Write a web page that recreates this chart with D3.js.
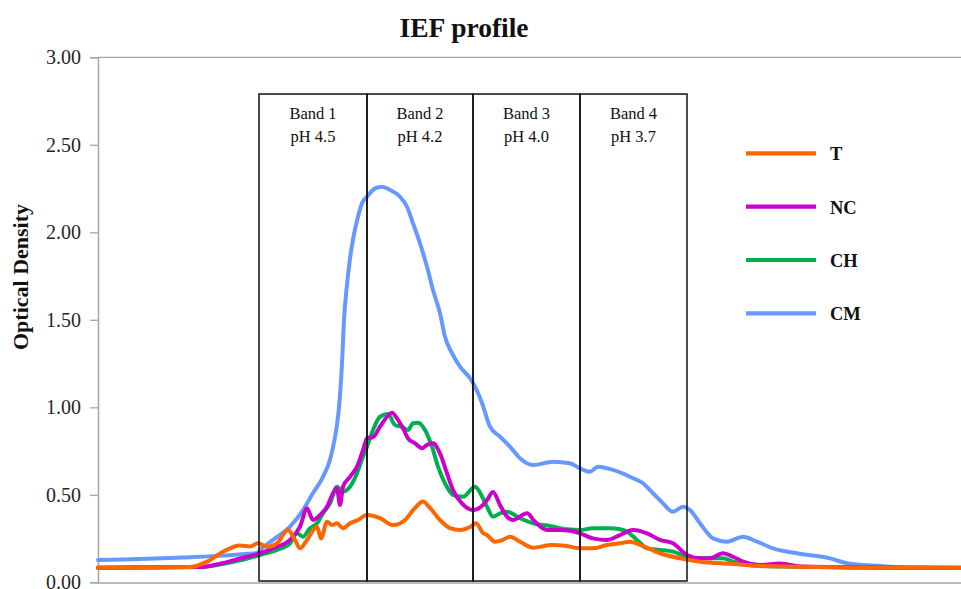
<!DOCTYPE html>
<html>
<head>
<meta charset="utf-8">
<script src="https://cdn.jsdelivr.net/npm/d3@7"></script>
<style>
  html, body { margin: 0; padding: 0; background: #fff; }
  svg { display: block; }
</style>
</head>
<body>
<svg id="chart" width="961" height="589"></svg>
<script>
// ---- data (position along the gel, optical density) ----
const seriesNames = ["T", "NC", "CH", "CM"];
const seriesColors = ["#FF6600", "#CC00CC", "#00B050", "#6699FF"];

const posT  = [0,92,109,125,142,152,160,169,179,190,197,202,209,219,223,229,234,239,245,252,260,269,282,295,307,317,325,332,342,352,362,372,378,385,389,397,405,412,422,435,454,469,482,495,509,522,532,545,562,582,602,635,662,752,863];
const odT   = [0.083,0.087,0.118,0.175,0.21,0.205,0.223,0.203,0.223,0.299,0.242,0.194,0.242,0.318,0.251,0.346,0.327,0.337,0.309,0.337,0.356,0.385,0.367,0.327,0.356,0.425,0.461,0.425,0.356,0.31,0.299,0.316,0.337,0.282,0.27,0.232,0.242,0.261,0.232,0.198,0.213,0.207,0.194,0.194,0.213,0.223,0.232,0.207,0.166,0.137,0.118,0.105,0.093,0.085,0.082];

const posNC = [0,102,125,142,162,175,192,202,209,215,222,229,235,239,242,245,252,259,265,269,275,282,289,294,299,305,310,317,324,329,335,342,349,355,364,375,385,389,395,402,409,415,429,437,449,462,472,482,495,509,522,535,549,562,575,589,602,612,625,635,645,662,682,702,782,863];
const odNC  = [0.083,0.087,0.11,0.136,0.166,0.194,0.242,0.318,0.423,0.356,0.385,0.432,0.509,0.537,0.442,0.546,0.603,0.661,0.756,0.823,0.829,0.889,0.946,0.969,0.937,0.88,0.823,0.794,0.766,0.785,0.794,0.737,0.623,0.527,0.451,0.413,0.442,0.47,0.516,0.442,0.375,0.356,0.394,0.346,0.299,0.299,0.295,0.28,0.251,0.242,0.27,0.299,0.28,0.242,0.223,0.156,0.137,0.137,0.166,0.146,0.118,0.099,0.107,0.09,0.085,0.083];

const posCH = [0,102,142,162,179,192,199,205,212,219,225,232,239,245,252,259,265,269,275,282,290,297,304,310,315,320,327,334,340,347,355,365,377,385,389,395,402,409,422,435,452,469,482,495,512,522,529,539,549,562,575,589,602,625,635,662,752,863];
const odCH  = [0.083,0.087,0.125,0.156,0.185,0.223,0.28,0.261,0.309,0.337,0.394,0.451,0.546,0.518,0.546,0.623,0.718,0.775,0.87,0.946,0.962,0.899,0.889,0.87,0.909,0.912,0.87,0.775,0.661,0.566,0.499,0.489,0.546,0.48,0.432,0.375,0.394,0.403,0.366,0.337,0.322,0.303,0.299,0.309,0.309,0.303,0.289,0.242,0.194,0.185,0.175,0.146,0.137,0.137,0.118,0.093,0.085,0.082];

const posCM = [0,159,162,175,192,205,215,225,232,236,239,241,244,246,249,252,255,260,264,269,277,284,292,302,309,315,322,329,335,342,347,354,362,372,377,384,392,402,412,422,435,455,472,482,492,500,515,532,545,555,565,575,585,592,602,615,629,645,659,675,699,732,749,782,815,863];
const odCM  = [0.127,0.167,0.185,0.242,0.318,0.413,0.51,0.603,0.70,0.80,0.90,1.00,1.25,1.50,1.70,1.85,1.96,2.089,2.166,2.203,2.251,2.261,2.242,2.203,2.146,2.051,1.937,1.803,1.67,1.537,1.403,1.309,1.232,1.166,1.118,1.025,0.889,0.832,0.775,0.709,0.67,0.689,0.68,0.651,0.632,0.661,0.642,0.603,0.566,0.509,0.451,0.403,0.432,0.413,0.337,0.251,0.232,0.261,0.232,0.194,0.166,0.137,0.109,0.093,0.083,0.083];

// bands (boundaries along the same position axis)
const bandEdges = [161, 269, 375, 482, 589];
const bandNames = ["Band 1", "Band 2", "Band 3", "Band 4"];
const bandPH    = ["pH 4.5", "pH 4.2", "pH 4.0", "pH 3.7"];
const bandTop   = 2.79;

const yTicks = [0, 0.5, 1, 1.5, 2, 2.5, 3];
const titleText = "IEF profile";
const yLabel = "Optical Density";

// ---- layout ----
const svg = d3.select("#chart");
const plotLeft = 98, plotRight = 962, plotTop = 57.3, plotBottom = 582.3;

const x = d3.scaleLinear().domain([0, 864]).range([plotLeft, plotRight]);
const y = d3.scaleLinear().domain([0, 3]).range([plotBottom, plotTop]);

const serif = "'Liberation Serif', 'Times New Roman', Times, serif";
const axisGrey = "#a6a6a6";

// top border line
svg.append("line")
  .attr("x1", plotLeft).attr("x2", 961)
  .attr("y1", y(3)).attr("y2", y(3))
  .attr("stroke", axisGrey).attr("stroke-width", 1.3);

// x axis line (no ticks)
svg.append("line")
  .attr("x1", plotLeft).attr("x2", 961)
  .attr("y1", y(0) + 0.8).attr("y2", y(0) + 0.8)
  .attr("stroke", axisGrey).attr("stroke-width", 1.5);

// y axis
const yAxis = d3.axisLeft(y).tickValues(yTicks).tickFormat(d3.format(".2f")).tickSize(8).tickPadding(9);
const gy = svg.append("g").attr("transform", `translate(${plotLeft},0)`).call(yAxis);
gy.select(".domain").attr("stroke", axisGrey).attr("stroke-width", 1.5);
gy.selectAll(".tick line").attr("stroke", axisGrey).attr("stroke-width", 1.3);
gy.selectAll(".tick text")
  .attr("font-family", serif).attr("font-size", 20).attr("fill", "#262626");

// series lines
const line = d3.line()
  .x(d => x(d[0])).y(d => y(d[1]))
  .curve(d3.curveMonotoneX);

const seriesData = [
  d3.zip(posT, odT),
  d3.zip(posNC, odNC),
  d3.zip(posCH, odCH),
  d3.zip(posCM, odCM)
];
// draw CM first, T last (T on top)
[3, 2, 1, 0].forEach(i => {
  svg.append("path")
    .datum(seriesData[i])
    .attr("fill", "none")
    .attr("stroke", seriesColors[i])
    .attr("stroke-width", 4)
    .attr("stroke-linejoin", "round")
    .attr("stroke-linecap", "round")
    .attr("d", line);
});

// band boxes
const bands = d3.range(bandNames.length).map(i => ({
  x0: bandEdges[i], x1: bandEdges[i + 1], name: bandNames[i], ph: bandPH[i]
}));
const gb = svg.append("g");
gb.selectAll("rect").data(bands).join("rect")
  .attr("x", d => x(d.x0)).attr("width", d => x(d.x1) - x(d.x0))
  .attr("y", y(bandTop)).attr("height", y(0) - 1.3 - y(bandTop))
  .attr("fill", "none").attr("stroke", "#111").attr("stroke-width", 1.5);
gb.selectAll("text.bn").data(bands).join("text").attr("class", "bn")
  .attr("x", d => (x(d.x0) + x(d.x1)) / 2).attr("y", 118.5)
  .attr("text-anchor", "middle").attr("font-family", serif).attr("font-size", 16.5).attr("fill", "#111")
  .text(d => d.name);
gb.selectAll("text.ph").data(bands).join("text").attr("class", "ph")
  .attr("x", d => (x(d.x0) + x(d.x1)) / 2).attr("y", 142)
  .attr("text-anchor", "middle").attr("font-family", serif).attr("font-size", 16.5).attr("fill", "#111")
  .text(d => d.ph);

// legend
const legendY = [153.3, 206.7, 260, 313.3];
const lg = svg.append("g");
seriesNames.forEach((n, i) => {
  lg.append("line")
    .attr("x1", 746).attr("x2", 816)
    .attr("y1", legendY[i]).attr("y2", legendY[i])
    .attr("stroke", seriesColors[i]).attr("stroke-width", 4.2);
  lg.append("text")
    .attr("x", 830).attr("y", legendY[i] + 6.8)
    .attr("font-family", serif).attr("font-size", 18.5).attr("font-weight", "bold").attr("fill", "#111")
    .text(n);
});

// title
svg.append("text")
  .attr("x", 464).attr("y", 37)
  .attr("text-anchor", "middle")
  .attr("font-family", serif).attr("font-size", 27.5).attr("font-weight", "bold").attr("fill", "#111")
  .text(titleText);

// y label
svg.append("text")
  .attr("transform", "translate(28,277) rotate(-90)")
  .attr("text-anchor", "middle")
  .attr("font-family", serif).attr("font-size", 22).attr("font-weight", "bold").attr("fill", "#111")
  .text(yLabel);
</script>
</body>
</html>
